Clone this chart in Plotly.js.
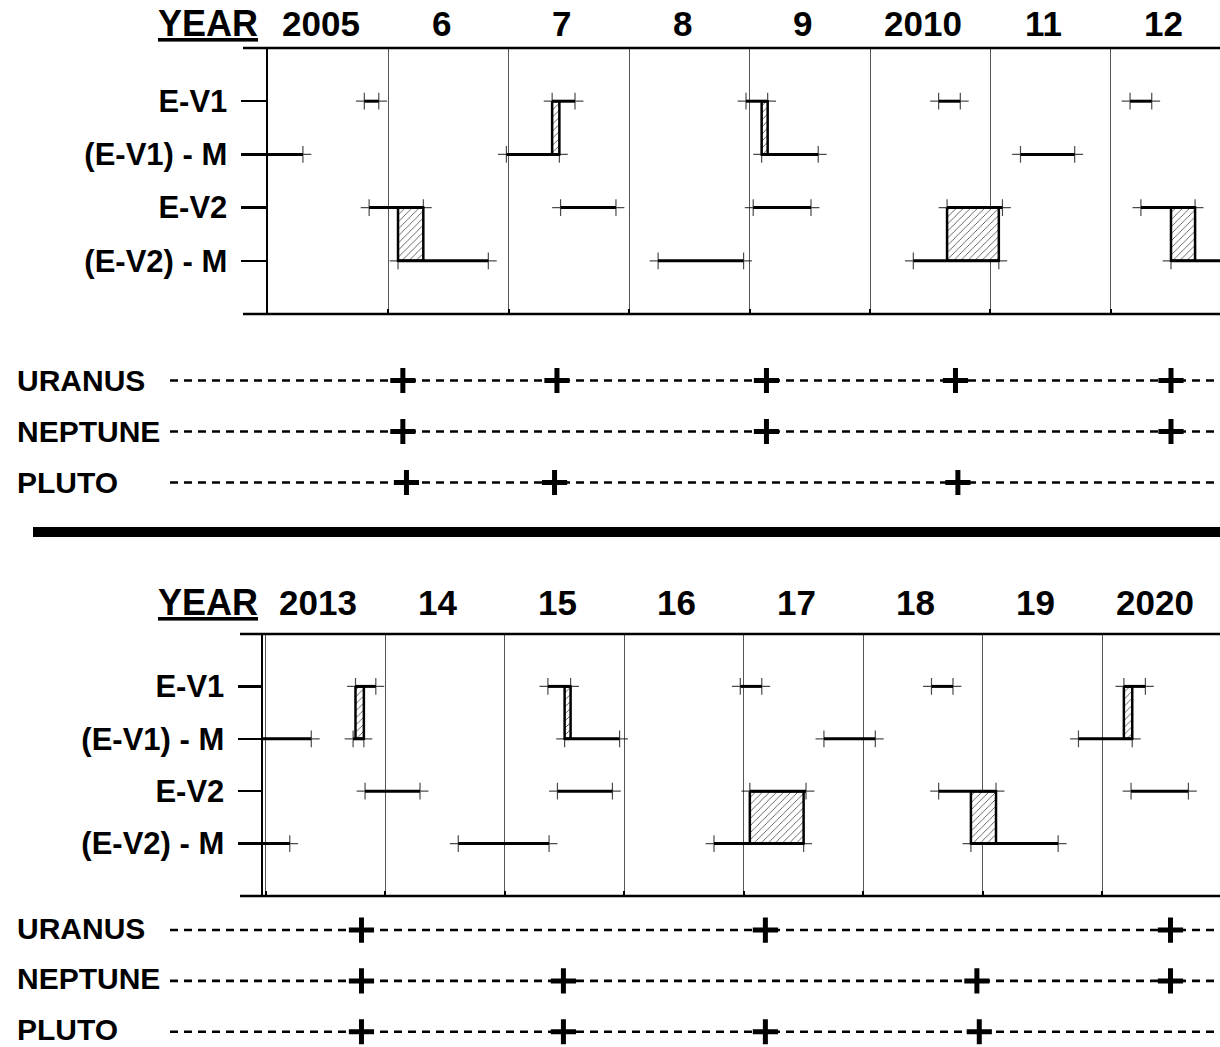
<!DOCTYPE html>
<html>
<head>
<meta charset="utf-8">
<script src="https://cdn.plot.ly/plotly-3.0.1.min.js"></script>
<style>html,body{margin:0;padding:0;background:#fff;}#chart{width:1220px;height:1047px;}</style>
</head>
<body>
<div id="chart"></div>
<script>
// ---------------- DATA ----------------
const rowLabels = ['E-V1', '(E-V1) - M', 'E-V2', '(E-V2) - M'];
const topYearLabels = ['2005', '6', '7', '8', '9', '2010', '11', '12'];
const bottomYearLabels = ['2013', '14', '15', '16', '17', '18', '19', '2020'];
const topYears = [2005, 2006, 2007, 2008, 2009, 2010, 2011, 2012];
const bottomYears = [2013, 2014, 2015, 2016, 2017, 2018, 2019, 2020];

// intervals (decimal years)
const ev1Start  = [2005.80, 2007.36, 2008.97, 2010.57, 2012.16, 2013.75, 2015.36, 2016.97, 2018.57, 2020.18];
const ev1End    = [2005.92, 2007.55, 2009.15, 2010.75, 2012.34, 2013.92, 2015.55, 2017.15, 2018.75, 2020.36];
const ev1mStart = [2004.85, 2006.98, 2009.10, 2011.25, 2012.94, 2013.73, 2015.50, 2017.67, 2019.80];
const ev1mEnd   = [2005.29, 2007.42, 2009.57, 2011.70, 2013.38, 2013.82, 2015.96, 2018.10, 2020.25];
const ev2Start  = [2005.84, 2007.43, 2009.03, 2010.64, 2012.25, 2013.83, 2015.44, 2017.05, 2018.63, 2020.24];
const ev2End    = [2006.29, 2007.89, 2009.51, 2011.10, 2012.70, 2014.29, 2015.90, 2017.52, 2019.11, 2020.72];
const ev2mStart = [2006.08, 2008.24, 2010.36, 2012.50, 2014.61, 2016.75, 2018.90];
const ev2mEnd   = [2006.83, 2008.95, 2011.07, 2013.20, 2015.37, 2017.50, 2019.63];

const planetNames = ['URANUS', 'NEPTUNE', 'PLUTO'];
const uranusDates  = [2006.12, 2007.40, 2009.14, 2010.71, 2012.50, 2013.80, 2017.18, 2020.57];
const neptuneDates = [2006.12, 2009.14, 2012.50, 2013.80, 2015.49, 2018.95, 2020.57];
const plutoDates   = [2006.15, 2007.38, 2010.73, 2013.80, 2015.49, 2017.18, 2018.97];

// ---------------- LAYOUT GEOMETRY ----------------
const W = 1220, H = 1047;
const xp = p => p / W;
const yp = p => 1 - p / H;
const FONT = 'Liberation Sans, Arial, Helvetica, sans-serif';

const panels = [
  {id: '', pid: '3', axisPx: 268, firstYear: 2005, pxPerYear: 120.4, top: 48, bottom: 314,
   frameLeft: 243, ticklen: 25, labelY: 24, yearLabels: topYearLabels, years: topYears,
   pTop: 355, pBottom: 508, pRowTop: 0.5, pRowBottom: 3.5, span: [2005, 2013], labelShift: 0},
  {id: '2', pid: '4', axisPx: 263, firstYear: 2012.976, pxPerYear: 119.5, top: 634, bottom: 896,
   frameLeft: 240, ticklen: 23, labelY: 602, yearLabels: bottomYearLabels, years: bottomYears,
   pTop: 904.6, pBottom: 1047, pRowTop: 0.5, pRowBottom: 3.30, span: [2013, 2021], labelShift: 2}
];
const planetLeftPx = 170;

const rows = [
  {s: ev1Start, e: ev1End, r: 1},
  {s: ev1mStart, e: ev1mEnd, r: 2},
  {s: ev2Start, e: ev2End, r: 3},
  {s: ev2mStart, e: ev2mEnd, r: 4}
];
const pairs = [[0, 1], [2, 3]];
const planetDates = [uranusDates, neptuneDates, plutoDates];

const traces = [];
const annotations = [];
const shapes = [];
const layout = {
  width: W, height: H, margin: {l: 0, r: 0, t: 0, b: 0},
  paper_bgcolor: '#fff', plot_bgcolor: 'rgba(0,0,0,0)', showlegend: false,
  font: {family: FONT, color: '#000'}
};

panels.forEach(P => {
  const xa = 'x' + P.id, ya = 'y' + P.id;
  const xpa = 'x' + P.pid, ypa = 'y' + P.pid;
  const xEnd = P.firstYear + (W - P.axisPx) / P.pxPerYear;
  const xpStart = xEnd - (W - planetLeftPx) / P.pxPerYear;
  const inRange = v => v != null && v >= P.firstYear && v <= xEnd;

  layout['xaxis' + P.id] = {
    domain: [xp(P.axisPx), 1], range: [P.firstYear, xEnd], anchor: ya,
    showgrid: true, gridcolor: '#555', gridwidth: 1, tick0: 0, dtick: 1,
    ticks: 'inside', ticklen: 5, tickwidth: 2, tickcolor: '#000',
    showticklabels: false, showline: false, zeroline: false, fixedrange: true
  };
  layout['yaxis' + P.id] = {
    domain: [yp(P.bottom), yp(P.top)], range: [5, 0], anchor: xa,
    tickvals: [1, 2, 3, 4], ticktext: rowLabels,
    ticks: 'outside', ticklen: P.ticklen, tickwidth: 2.5, tickcolor: '#000',
    ticklabelstandoff: 7,
    tickfont: {family: FONT, size: 31, weight: 700, color: '#000'},
    showline: true, linewidth: 2.5, linecolor: '#000',
    showgrid: false, zeroline: false, fixedrange: true
  };
  layout['xaxis' + P.pid] = {
    domain: [xp(planetLeftPx), 1], range: [xpStart, xEnd], anchor: ypa,
    showgrid: false, zeroline: false, showticklabels: false, showline: false, ticks: '', fixedrange: true
  };
  layout['yaxis' + P.pid] = {
    domain: [yp(P.pBottom), yp(P.pTop)], range: [P.pRowBottom, P.pRowTop], anchor: xpa,
    showgrid: false, zeroline: false, showticklabels: false, showline: false, ticks: '', fixedrange: true
  };

  // hatched overlap boxes
  const bx = [], by = [];
  pairs.forEach(([a, b]) => {
    const A = rows[a], B = rows[b];
    A.s.forEach((s1, i) => {
      const e1 = A.e[i];
      B.s.forEach((s2, j) => {
        const e2 = B.e[j];
        const lo = Math.max(s1, s2), hi = Math.min(e1, e2);
        if (lo < hi) {
          bx.push(lo, lo, hi, hi, lo, null);
          by.push(A.r, B.r, B.r, A.r, A.r, null);
        }
      });
    });
  });
  traces.push({
    type: 'scatter', mode: 'lines', xaxis: xa, yaxis: ya, x: bx, y: by,
    fill: 'toself', fillcolor: '#fff',
    fillpattern: {shape: '/', fgcolor: '#000', bgcolor: '#fff', size: 5, solidity: 0.12},
    line: {color: '#000', width: 2.5}, hoverinfo: 'skip'
  });

  // interval segments (end markers only where the end lies inside this panel)
  rows.forEach(R => {
    const x = [], y = [];
    R.s.forEach((s, i) => { x.push(s, R.e[i], null); y.push(R.r, R.r, null); });
    traces.push({
      type: 'scatter', mode: 'lines+markers', xaxis: xa, yaxis: ya, x, y,
      line: {color: '#000', width: 3},
      marker: {symbol: 'cross-thin', size: x.map(v => inRange(v) ? 12 : 0), color: '#000',
               line: {color: '#000', width: 1.2}},
      hoverinfo: 'skip'
    });
  });

  // planet rows
  planetDates.forEach((dates, k) => {
    const r = k + 1;
    traces.push({
      type: 'scatter', mode: 'lines', xaxis: xpa, yaxis: ypa,
      x: [xpStart, xEnd], y: [r, r],
      line: {color: '#000', width: 2.6, dash: '8px,6px'}, hoverinfo: 'skip'
    });
    const d = dates.filter(v => v >= P.span[0] && v < P.span[1]);
    traces.push({
      type: 'scatter', mode: 'markers', xaxis: xpa, yaxis: ypa,
      x: d, y: d.map(() => r),
      marker: {symbol: 'cross-thin', size: 18, color: '#000', line: {color: '#000', width: 5}},
      hoverinfo: 'skip'
    });
    annotations.push({
      xref: 'paper', yref: ypa, x: xp(15), y: r, xanchor: 'left', yanchor: 'middle',
      yshift: P.labelShift,
      text: planetNames[k], showarrow: false,
      font: {family: FONT, size: 30, weight: 700, color: '#000'}
    });
  });

  // year labels
  P.years.forEach((yr, i) => {
    annotations.push({
      xref: xa, yref: 'paper', x: yr + 0.44, y: yp(P.labelY), xanchor: 'center', yanchor: 'middle',
      text: P.yearLabels[i], showarrow: false,
      font: {family: FONT, size: 35, weight: 700, color: '#000'}
    });
  });
  annotations.push({
    xref: 'paper', yref: 'paper', x: xp(208), y: yp(P.labelY), xanchor: 'center', yanchor: 'middle',
    text: 'YEAR', showarrow: false,
    font: {family: FONT, size: 36, weight: 700, color: '#000', lineposition: 'under'}
  });

  // frame lines extending left of the axis
  [P.top, P.bottom].forEach(py => {
    shapes.push({type: 'line', xref: 'paper', yref: 'paper', x0: xp(P.frameLeft), x1: 1,
      y0: yp(py), y1: yp(py), line: {color: '#000', width: 2.5}});
  });
});

// thick separator bar
shapes.push({type: 'rect', xref: 'paper', yref: 'paper', x0: xp(33), x1: 1,
  y0: yp(537), y1: yp(527), fillcolor: '#000', line: {width: 0}});

layout.annotations = annotations;
layout.shapes = shapes;

Plotly.newPlot('chart', traces, layout, {staticPlot: true, displayModeBar: false});
</script>
</body>
</html>
